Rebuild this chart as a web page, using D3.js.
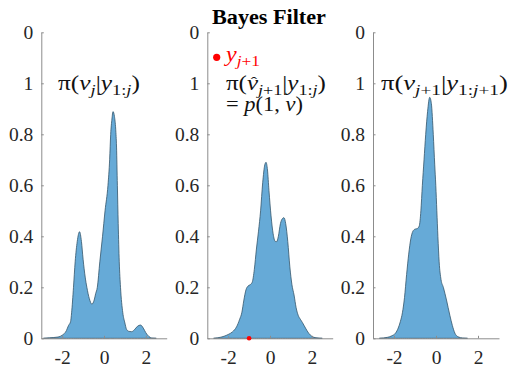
<!DOCTYPE html>
<html><head><meta charset="utf-8">
<script src="https://cdn.jsdelivr.net/npm/d3@7"></script>
<style>body{margin:0;background:#fff}svg{display:block}</style>
</head><body>
<svg id="c" width="512" height="367"></svg>
<script>
// ---- data ----
const priorX = [-2.9,-2.6,-2.2,-2.0,-1.8,-1.7,-1.6,-1.55,-1.46,-1.38,-1.28,-1.17,-1.08,-1.0,-0.9,-0.82,-0.7,-0.58,-0.47,-0.4,-0.32,-0.2,-0.07,0.05,0.19,0.27,0.32,0.38,0.43,0.5,0.56,0.6,0.64,0.68,0.73,0.79,0.9,1.0,1.08,1.2,1.32,1.45,1.6,1.75,1.88,2.0,2.15,2.28,2.5];
const priorY = [0,0.002,0.005,0.012,0.03,0.05,0.065,0.1,0.2,0.3,0.38,0.418,0.38,0.31,0.24,0.2,0.155,0.134,0.15,0.175,0.2,0.3,0.4,0.5,0.6,0.7,0.8,0.86,0.889,0.87,0.82,0.75,0.6,0.45,0.3,0.2,0.1,0.06,0.035,0.027,0.026,0.033,0.047,0.052,0.04,0.022,0.007,0.001,0];
const predX = [-2.7,-2.5,-2.2,-2.0,-1.8,-1.6,-1.45,-1.35,-1.25,-1.15,-1.05,-0.95,-0.85,-0.75,-0.65,-0.55,-0.45,-0.35,-0.25,-0.19,-0.12,-0.05,0.05,0.15,0.25,0.32,0.4,0.5,0.6,0.67,0.75,0.85,0.95,1.05,1.15,1.25,1.35,1.45,1.55,1.7,1.85,2.0,2.2,2.5];
const predY = [0,0.002,0.008,0.015,0.025,0.045,0.075,0.1,0.15,0.19,0.205,0.21,0.22,0.27,0.35,0.42,0.5,0.61,0.68,0.69,0.66,0.58,0.48,0.41,0.38,0.379,0.4,0.45,0.47,0.473,0.45,0.38,0.28,0.21,0.17,0.12,0.09,0.075,0.062,0.04,0.02,0.008,0.002,0];
const postX = [-2.7,-2.3,-2.1,-1.93,-1.8,-1.7,-1.6,-1.5,-1.4,-1.3,-1.2,-1.1,-1.0,-0.9,-0.8,-0.72,-0.65,-0.57,-0.49,-0.4,-0.3,-0.22,-0.13,-0.06,-0.01,0.04,0.09,0.15,0.24,0.35,0.5,0.66,0.78,0.9,1.05,1.27,1.5];
const postY = [0,0.004,0.01,0.02,0.04,0.065,0.1,0.16,0.25,0.33,0.39,0.42,0.428,0.43,0.44,0.5,0.6,0.7,0.8,0.89,0.945,0.92,0.8,0.68,0.6,0.5,0.4,0.3,0.23,0.2,0.15,0.09,0.05,0.02,0.006,0.001,0];
const observation = [-1];
const xTicks = [-2, 0, 2];
const xTickLabels = ["-2", "0", "2"];
const yTicks = [0, 0.2, 0.4, 0.6, 0.8, 1, 1.2];
const yTickLabels = ["0", "0.2", "0.4", "0.6", "0.8", "1", "0"];

// ---- drawing ----
const svg = d3.select("#c");
const FONT = "Liberation Serif, Times New Roman, DejaVu Serif, serif";
const y = d3.scaleLinear().domain([0, 1.2]).range([338.3, 32.3]);
const panels = [
  {x0: 41.3, x1: 166.7, xs: priorX, ys: priorY},
  {x0: 207.3, x1: 332.7, xs: predX, ys: predY},
  {x0: 373, x1: 499, xs: postX, ys: postY}
];
panels.forEach((p, i) => {
  const x = d3.scaleLinear().domain([-3, 3]).range([p.x0, p.x1]);
  p.x = x;
  const g = svg.append("g");
  const pts = p.xs.map((v, k) => [v, p.ys[k]]);
  const area = d3.area().x(d => x(d[0])).y0(y(0)).y1(d => y(d[1])).curve(d3.curveMonotoneX);
  g.append("path").attr("d", area(pts)).attr("fill", "rgb(102,170,215)")
    .attr("stroke", "#34556b").attr("stroke-width", 0.8);
  const ya = g.append("g").attr("transform", `translate(${p.x0},0)`)
    .call(d3.axisLeft(y).tickValues(yTicks).tickFormat((d, k) => yTickLabels[k]).tickSizeInner(-2.5).tickSizeOuter(0).tickPadding(8));
  const xa = g.append("g").attr("transform", `translate(0,${y(0)})`)
    .call(d3.axisBottom(x).tickValues(xTicks).tickFormat((d, k) => xTickLabels[k]).tickSizeInner(-2.5).tickSizeOuter(0).tickPadding(12));
  [ya, xa].forEach(a => {
    a.selectAll("path,line").attr("stroke", "#8c8c8c");
    a.selectAll("text").style("font-family", FONT).style("font-size", "19.5px").attr("fill", "#262626");
  });
});

// observation dot
svg.selectAll("circle.obs").data(observation).enter().append("circle")
  .attr("cx", d => panels[1].x(d)).attr("cy", y(0)).attr("r", 2.3).attr("fill", "red");

// stretch a text group horizontally to a target width
function fit(g, t, x0, yb, width) {
  const w = t.node().getComputedTextLength();
  g.attr("transform", `translate(${x0},${yb}) scale(${width / w},1)`);
}

// title
{
  const g = svg.append("g");
  const t = g.append("text").style("font-family", FONT).style("font-weight", "bold").style("font-size", "20px")
    .attr("fill", "#000").text("Bayes Filter");
  fit(g, t, 212, 24, 114);
}

// math labels
function mathText(x0, yb, segs, width, color) {
  const g = svg.append("g");
  const t = g.append("text").style("font-family", FONT).style("font-size", "20px").attr("fill", color || "#111");
  let cur = 0;
  segs.forEach(s => {
    const target = s[2] ? 5 : 0;
    const ts = t.append("tspan").text(s[0]).attr("dy", target - cur);
    cur = target;
    if (s[1] === "i") ts.style("font-style", "italic");
    if (s[2]) ts.style("font-size", "14.5px");
  });
  fit(g, t, x0, yb, width);
  return {g, t};
}
mathText(58, 90, [["π(", "n"], ["v", "i"], ["j", "i", 1], ["|", "n"], ["y", "i"], ["1:", "n", 1], ["j", "i", 1], [")", "n"]], 82);
svg.append("circle").attr("cx", 216.7).attr("cy", 57.3).attr("r", 3.6).attr("fill", "red");
mathText(226, 61, [["y", "i"], ["j", "i", 1], ["+1", "n", 1]], 34, "red");
const pred = mathText(226, 90, [["π(", "n"], ["v", "i"], ["j", "i", 1], ["+1", "n", 1], ["|", "n"], ["y", "i"], ["1:", "n", 1], ["j", "i", 1], [")", "n"]], 100);
// hat over v in the predicted label
const ext = pred.t.node().getExtentOfChar(2);
pred.g.append("text").attr("x", ext.x + ext.width / 2 + 1.2).attr("y", -3.5).attr("text-anchor", "middle")
  .style("font-family", FONT).style("font-size", "15px").attr("fill", "#111").text("\u02C6");
mathText(226, 111, [["= ", "n"], ["p", "i"], ["(1, ", "n"], ["v", "i"], [")", "n"]], 77);
mathText(381, 90, [["π(", "n"], ["v", "i"], ["j", "i", 1], ["+1", "n", 1], ["|", "n"], ["y", "i"], ["1:", "n", 1], ["j", "i", 1], ["+1", "n", 1], [")", "n"]], 127);
</script>
</body></html>
